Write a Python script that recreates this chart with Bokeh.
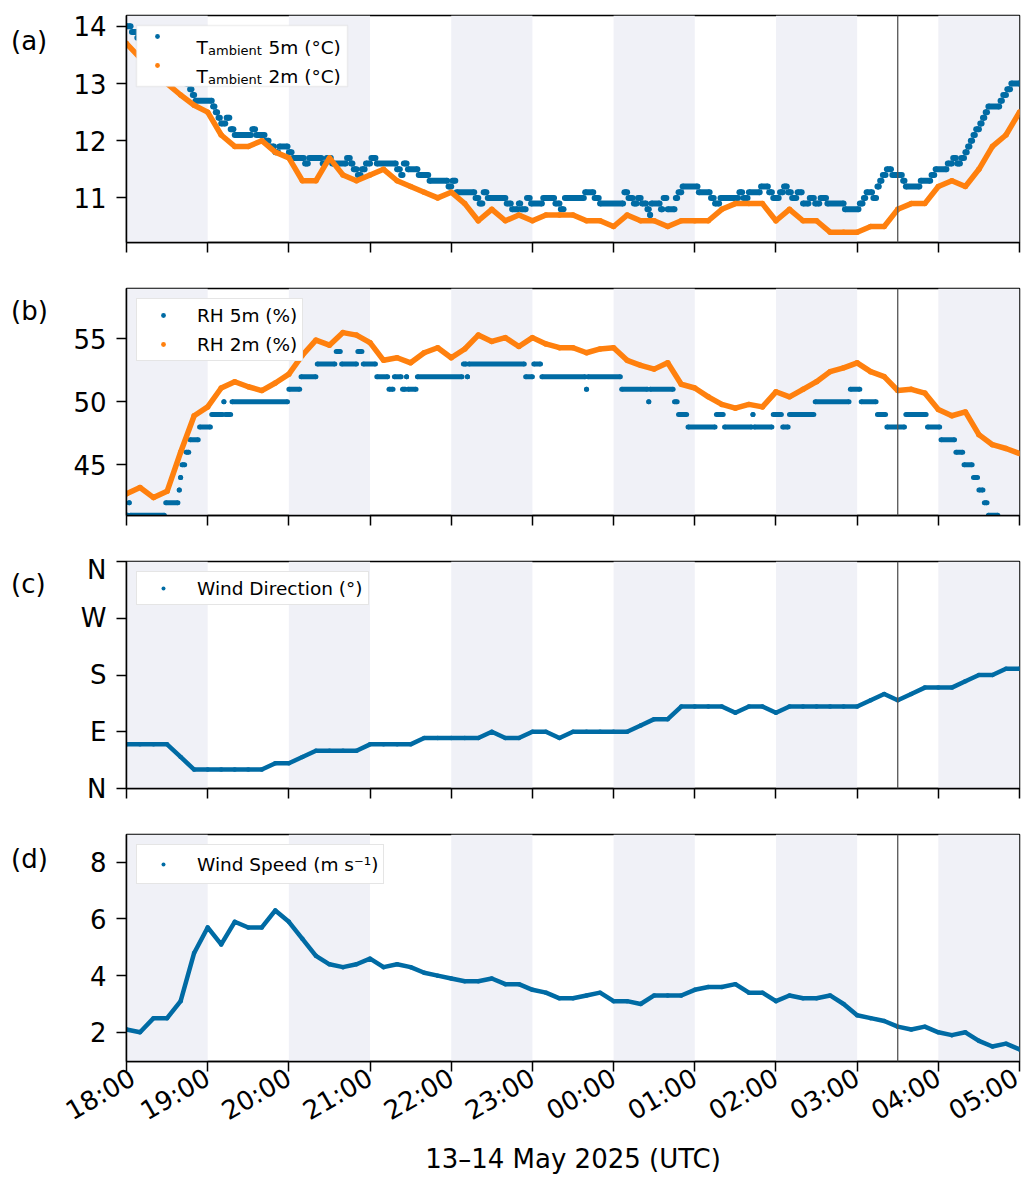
import math
import numpy as np
from datetime import datetime, timezone
from bokeh.plotting import figure
from bokeh.models import (ColumnDataSource, FixedTicker, DatetimeTickFormatter,
                          CustomJSTickFormatter, Range1d, BoxAnnotation, Span,
                          Legend, LegendItem, Label, Div)
from bokeh.layouts import column, row
from bokeh.embed import file_html
from bokeh.resources import INLINE

# ------------------------------------------------------------------ data
X_LABEL = "13–14 May 2025 (UTC)"
PANEL_TAGS = ["(a)", "(b)", "(c)", "(d)"]
START = datetime(2025, 5, 13, 18, 0, tzinfo=timezone.utc)   # 18:00 UTC
hour_ticks_min = [0, 60, 120, 180, 240, 300, 360, 420, 480, 540, 600, 660]
shade_start_min = [0, 120, 240, 360, 480, 600]                # 1-h shaded bands
marker_min = 570                                               # 03:30 marker line

# 10-minute samples (minutes after 18:00)
t10_min = list(range(0, 661, 10))

temp_2m = [13.7, 13.45, 13.2, 13.0, 12.8, 12.62, 12.5, 12.1, 11.9, 11.9,
           12.0, 11.8, 11.7, 11.3, 11.3, 11.7, 11.4, 11.3, 11.4, 11.5,
           11.3, 11.2, 11.1, 11.0, 11.1, 10.9, 10.6, 10.8, 10.6, 10.7,
           10.6, 10.7, 10.7, 10.7, 10.6, 10.6, 10.5, 10.7, 10.6, 10.6,
           10.5, 10.6, 10.6, 10.6, 10.8, 10.9, 10.9, 10.9, 10.6, 10.8,
           10.6, 10.6, 10.4, 10.4, 10.4, 10.5, 10.5, 10.8, 10.9, 10.9,
           11.2, 11.3, 11.2, 11.5, 11.9, 12.1, 12.5]

rh_2m = [42.7, 43.2, 42.4, 42.9, 46.0, 48.9, 49.6, 51.1, 51.6, 51.2,
         50.9, 51.5, 52.2, 53.7, 54.9, 54.5, 55.5, 55.3, 54.7, 53.3,
         53.5, 53.1, 53.9, 54.3, 53.5, 54.2, 55.3, 54.8, 55.1, 54.4,
         55.1, 54.6, 54.3, 54.3, 53.9, 54.2, 54.3, 53.3, 52.9, 52.6,
         53.1, 51.4, 51.1, 50.4, 49.8, 49.5, 49.8, 49.6, 50.8, 50.4,
         51.0, 51.6, 52.4, 52.7, 53.1, 52.4, 52.0, 50.9, 51.0, 50.7,
         49.4, 48.9, 49.2, 47.4, 46.6, 46.3, 45.9]

wind_dir = [70, 70, 70, 70, 50, 30, 30, 30, 30, 30,
            30, 40, 40, 50, 60, 60, 60, 60, 70, 70,
            70, 70, 80, 80, 80, 80, 80, 90, 80, 80,
            90, 90, 80, 90, 90, 90, 90, 90, 100, 110,
            110, 130, 130, 130, 130, 120, 130, 130, 120, 130,
            130, 130, 130, 130, 130, 140, 150, 140, 150, 160,
            160, 160, 170, 180, 180, 190, 190]

wind_speed = [2.1, 2.0, 2.5, 2.5, 3.1, 4.8, 5.7, 5.1, 5.9, 5.7,
              5.7, 6.3, 5.9, 5.3, 4.7, 4.4, 4.3, 4.4, 4.6, 4.3,
              4.4, 4.3, 4.1, 4.0, 3.9, 3.8, 3.8, 3.9, 3.7, 3.7,
              3.5, 3.4, 3.2, 3.2, 3.3, 3.4, 3.1, 3.1, 3.0, 3.3,
              3.3, 3.3, 3.5, 3.6, 3.6, 3.7, 3.4, 3.4, 3.1, 3.3,
              3.2, 3.2, 3.3, 3.0, 2.6, 2.5, 2.4, 2.2, 2.1, 2.2,
              2.0, 1.9, 2.0, 1.7, 1.5, 1.6, 1.4]

# 1-minute 5 m sensor, stored as runs: (first minute, last minute, value)
temp_5m_runs = [
    (0, 3, 14.0), (4, 7, 13.9), (8, 12, 13.8), (13, 17, 13.7), (18, 22, 13.6),
    (23, 27, 13.5), (28, 31, 13.4), (32, 35, 13.3), (36, 39, 13.2), (40, 43, 13.1),
    (44, 46, 13.0), (47, 48, 12.9), (49, 50, 12.8), (51, 63, 12.7), (64, 65, 12.6),
    (66, 67, 12.5), (68, 69, 12.4), (70, 73, 12.3), (74, 76, 12.4), (77, 79, 12.2),
    (80, 92, 12.1), (93, 95, 12.2), (96, 102, 12.1), (103, 105, 12.0), (106, 109, 11.9),
    (110, 112, 11.8), (113, 119, 11.9), (120, 122, 11.8), (123, 131, 11.7), (132, 134, 11.6),
    (135, 144, 11.7), (145, 147, 11.6), (148, 151, 11.7), (152, 162, 11.6), (163, 165, 11.7),
    (166, 167, 11.6), (168, 170, 11.5), (171, 173, 11.4), (174, 176, 11.5), (177, 180, 11.6),
    (181, 184, 11.7), (185, 199, 11.6), (200, 202, 11.5), (203, 204, 11.4), (205, 207, 11.6),
    (208, 215, 11.5), (216, 223, 11.4), (224, 237, 11.3), (238, 240, 11.2), (241, 243, 11.3),
    (244, 257, 11.1), (258, 260, 11.0), (261, 263, 10.9), (264, 266, 11.1), (267, 280, 11.0),
    (281, 284, 10.9), (285, 289, 10.8), (290, 291, 10.9), (292, 295, 10.8), (296, 298, 11.0),
    (299, 307, 10.9), (308, 316, 11.0), (317, 320, 10.9), (321, 323, 10.8), (324, 338, 11.0),
    (339, 345, 11.1), (346, 349, 11.0), (350, 367, 10.9), (368, 370, 11.1), (371, 374, 11.0),
    (375, 377, 10.9), (378, 380, 11.0), (381, 384, 10.9), (385, 386, 10.8), (387, 387, 10.7),
    (388, 394, 10.9), (395, 396, 10.8), (397, 399, 11.0), (400, 405, 10.8), (406, 407, 11.0),
    (408, 410, 11.1), (411, 422, 11.2), (423, 431, 11.1), (432, 434, 11.0), (435, 438, 10.9),
    (439, 452, 11.0), (453, 455, 11.1), (456, 459, 11.0), (460, 468, 11.1), (469, 474, 11.2),
    (475, 477, 11.1), (478, 482, 11.0), (483, 485, 11.1), (486, 488, 11.2), (489, 491, 11.1),
    (492, 495, 11.0), (496, 499, 11.1), (500, 504, 10.9), (505, 508, 11.0), (509, 512, 10.9),
    (513, 517, 11.0), (518, 530, 10.9), (531, 541, 10.8), (542, 544, 10.9), (545, 546, 11.0),
    (547, 551, 11.1), (552, 554, 11.0), (555, 556, 11.2), (557, 558, 11.3), (559, 561, 11.4),
    (562, 565, 11.5), (566, 573, 11.4), (574, 575, 11.3), (576, 586, 11.2), (587, 594, 11.3),
    (595, 597, 11.4), (598, 606, 11.5), (607, 610, 11.6), (611, 613, 11.7), (614, 616, 11.6),
    (617, 619, 11.7), (620, 621, 11.8), (622, 623, 11.9), (624, 625, 12.0), (626, 627, 12.1),
    (628, 630, 12.2), (631, 632, 12.3), (633, 634, 12.4), (635, 636, 12.5), (637, 645, 12.6),
    (646, 647, 12.7), (648, 650, 12.8), (651, 653, 12.9), (654, 660, 13.0),
]

rh_5m_runs = [
    (0, 1, 41), (2, 2, 42), (3, 28, 41), (29, 38, 42), (39, 39, 43), (40, 40, 44),
    (41, 43, 45), (44, 46, 46), (47, 53, 47), (54, 62, 48), (63, 71, 49), (72, 72, 50),
    (73, 77, 49), (78, 119, 50), (120, 128, 51), (129, 140, 52), (141, 154, 53),
    (155, 158, 54), (159, 170, 53), (171, 174, 54), (175, 184, 53), (185, 193, 52),
    (194, 197, 51), (198, 203, 52), (204, 206, 51), (207, 207, 52), (208, 214, 51),
    (215, 248, 52), (249, 251, 53), (252, 252, 52), (253, 294, 53), (295, 300, 52),
    (301, 306, 53), (307, 339, 52), (340, 340, 51), (341, 365, 52), (366, 385, 51),
    (386, 386, 50), (387, 404, 51), (405, 407, 50), (408, 414, 49), (415, 435, 48),
    (436, 441, 49), (442, 462, 48), (463, 463, 49), (464, 477, 48), (478, 484, 49),
    (485, 489, 48), (490, 508, 49), (509, 534, 50), (535, 542, 51), (543, 554, 50),
    (555, 561, 49), (562, 575, 48), (576, 591, 49), (592, 601, 48), (602, 612, 47),
    (613, 618, 46), (619, 625, 45), (626, 629, 44), (630, 633, 43), (634, 636, 42),
    (637, 644, 41), (645, 660, 40),
]

# ------------------------------------------------------------------ style
FONT = "DejaVu Sans"
BLUE = "#006BA4"
ORANGE = "#FF800E"
SHADE = "#F0F1F7"
TICK_FS = "26px"
LEG_FS = "18.5px"
DIV_W = 60           # width of the column holding the panel tags
FIG_W = 1023 - DIV_W
FRAME_W = 893
FRAME_H = 227

BASE_MS = START.timestamp() * 1000.0
def tx(m):
    return BASE_MS + np.asarray(m, dtype=float) * 60000.0

X0, X1 = float(tx(0)), float(tx(660))


def make_fig(height, border_top, border_bottom, yr, yticks, last=False):
    p = figure(width=FIG_W, height=height, x_axis_type="datetime",
               x_range=Range1d(X0, X1), y_range=Range1d(*yr),
               output_backend="svg", toolbar_location=None, tools="",
               min_border_left=126 - DIV_W, min_border_right=4,
               min_border_top=border_top, min_border_bottom=border_bottom)
    p.background_fill_color = "white"
    p.border_fill_color = "white"
    p.outline_line_color = "black"
    p.outline_line_width = 1.5
    p.grid.visible = False
    for s in shade_start_min:
        p.add_layout(BoxAnnotation(left=float(tx(s)), right=float(tx(s + 60)),
                                   fill_color=SHADE, fill_alpha=1.0,
                                   line_color=None, level="underlay"))
    xa = p.xaxis[0]
    xa.ticker = FixedTicker(ticks=[float(v) for v in tx(hour_ticks_min)])
    xa.minor_tick_line_color = None
    xa.major_tick_in = 0
    xa.major_tick_out = 10
    xa.major_tick_line_width = 1.5
    xa.axis_line_width = 1.5
    xa.major_label_text_font = FONT
    xa.major_label_text_color = "black"
    if last:
        xa.formatter = DatetimeTickFormatter(minutes="%H:%M", hourmin="%H:%M",
                                             hours="%H:%M", days="%H:%M")
        xa.major_label_text_font_size = TICK_FS
        xa.major_label_orientation = math.pi / 6
        xa.major_label_standoff = 4
        xa.axis_label = X_LABEL
        xa.axis_label_text_font = FONT
        xa.axis_label_text_font_size = TICK_FS
        xa.axis_label_text_font_style = "normal"
        xa.axis_label_text_color = "black"
        xa.axis_label_standoff = 2
    else:
        # ticks only, no labels on the upper panels
        xa.formatter = CustomJSTickFormatter(code="return ''")
        xa.major_label_text_font_size = "10px"
        xa.major_label_standoff = 0
    ya = p.yaxis[0]
    ya.ticker = FixedTicker(ticks=yticks)
    ya.minor_tick_line_color = None
    ya.major_tick_in = 0
    ya.major_tick_out = 10
    ya.major_tick_line_width = 1.5
    ya.axis_line_width = 1.5
    ya.major_label_standoff = 10
    ya.major_label_text_font = FONT
    ya.major_label_text_font_size = TICK_FS
    ya.major_label_text_color = "black"
    return p


def add_legend(p, items, glyph_h, label_width=20, label_height=22, transparent=False):
    leg = Legend(items=items, location="top_left", margin=10, padding=5,
                 spacing=7, label_height=label_height, glyph_height=glyph_h,
                 glyph_width=42, label_standoff=13, label_width=label_width,
                 label_text_font=FONT, label_text_font_size=LEG_FS,
                 label_text_color="black",
                 border_line_color=None if transparent else "#CCCCCC",
                 border_line_width=1.5, background_fill_color="white",
                 background_fill_alpha=0.0 if transparent else 1.0)
    p.add_layout(leg, "center")


def tag_div(text, height, pad_top):
    return Div(text=text, width=DIV_W, height=height, margin=0,
               styles={"font-family": FONT, "font-size": "26px",
                       "line-height": "30px", "color": "black",
                       "padding-left": "11px", "padding-top": f"{pad_top}px",
                       "box-sizing": "border-box", "background": "white"})


def add_marker(p):
    p.add_layout(Span(location=float(tx(marker_min)), dimension="height",
                      line_color="#555555", line_width=1.3))


def add_runs(p, runs, size, color):
    src = ColumnDataSource(dict(
        x0=tx([r[0] for r in runs]), x1=tx([r[1] for r in runs]),
        y=[r[2] for r in runs]))
    p.segment(x0="x0", y0="y", x1="x1", y1="y", source=src,
              line_width=size, line_color=color)
    p.scatter(x="x1", y="y", source=src, size=size, marker="circle",
              fill_color=color, line_color=None)
    return p.scatter(x="x0", y="y", source=src, size=size, marker="circle",
                     fill_color=color, line_color=None)


def add_line(p, y, width, color, dot):
    src = ColumnDataSource(dict(x=tx(t10_min), y=y))
    p.line(x="x", y="y", source=src, line_width=width, line_color=color,
           line_join="round", line_cap="round")
    return p.scatter(x="x", y="y", source=src, size=dot, marker="circle",
                     fill_color=color, line_color=None)


# ------------------------------------------------------------------ (a)
HA, HB, HC, HD = 281, 273, 273, 351
YR_A = (10.22, 14.19)
pa = make_fig(HA, 15, 39, YR_A, [11, 12, 13, 14])
r_t5 = add_runs(pa, temp_5m_runs, 6, BLUE)
r_t2 = add_line(pa, temp_2m, 5.5, ORANGE, 5.5)
add_marker(pa)

# legend frame for panel (a): pixel offsets inside the frame -> axis units
def px_to_x(px):
    return X0 + (X1 - X0) * px / FRAME_W
def px_to_ya(px_from_top):
    return YR_A[1] - (YR_A[1] - YR_A[0]) * px_from_top / FRAME_H

pa.add_layout(BoxAnnotation(left=px_to_x(10), right=px_to_x(221),
                            top=px_to_ya(10), bottom=px_to_ya(71),
                            fill_color="white", fill_alpha=1.0,
                            line_color="#CCCCCC", line_width=1.5,
                            level="annotation"))
for yb, suffix in ((194.7, "5m (°C)"), (165.7, "2m (°C)")):
    pa.add_layout(Label(x=70, y=yb, x_units="screen", y_units="screen", text="T",
                        text_font=FONT, text_font_size=LEG_FS, text_color="black",
                        text_baseline="alphabetic"))
    pa.add_layout(Label(x=81.5, y=yb - 2.5, x_units="screen", y_units="screen",
                        text="ambient", text_font=FONT, text_font_size="13px",
                        text_color="black", text_baseline="alphabetic"))
    pa.add_layout(Label(x=142, y=yb, x_units="screen", y_units="screen", text=suffix,
                        text_font=FONT, text_font_size=LEG_FS, text_color="black",
                        text_baseline="alphabetic"))
add_legend(pa, [LegendItem(label=" ", renderers=[r_t5]),
                LegendItem(label=" ", renderers=[r_t2])], 12, label_width=146,
           transparent=True)

# ------------------------------------------------------------------ (b)
pb = make_fig(HB, 7, 39, (40.98, 59.0), [45, 50, 55])
r_rh5 = add_runs(pb, rh_5m_runs, 5, BLUE)
r_rh2 = add_line(pb, rh_2m, 5.5, ORANGE, 5.5)
add_marker(pb)
add_legend(pb, [LegendItem(label="RH 5m (%)", renderers=[r_rh5]),
                LegendItem(label="RH 2m (%)", renderers=[r_rh2])], 12)

# ------------------------------------------------------------------ (c)
pc = make_fig(HC, 7, 39, (0, 360), [0, 90, 180, 270, 360])
pc.yaxis[0].major_label_overrides = {0: "N", 90: "E", 180: "S", 270: "W", 360: "N"}
r_wd = add_line(pc, wind_dir, 4.5, BLUE, 4.5)
add_marker(pc)
add_legend(pc, [LegendItem(label="Wind Direction (°)", renderers=[r_wd])], 10)

# ------------------------------------------------------------------ (d)
pd_ = make_fig(HD, 7, 117, (0.97, 8.98), [2, 4, 6, 8], last=True)
r_ws = add_line(pd_, wind_speed, 4.5, BLUE, 4.5)
add_marker(pd_)
add_legend(pd_, [LegendItem(label="Wind Speed (m s⁻¹)", renderers=[r_ws])], 10,
           label_height=28)

layout = column(
    row(tag_div(PANEL_TAGS[0], HA, 26), pa, spacing=0),
    row(tag_div(PANEL_TAGS[1], HB, 15), pb, spacing=0),
    row(tag_div(PANEL_TAGS[2], HC, 15), pc, spacing=0),
    row(tag_div(PANEL_TAGS[3], HD, 17), pd_, spacing=0),
    spacing=0)
open("out.html", "w").write(file_html(layout, INLINE))
